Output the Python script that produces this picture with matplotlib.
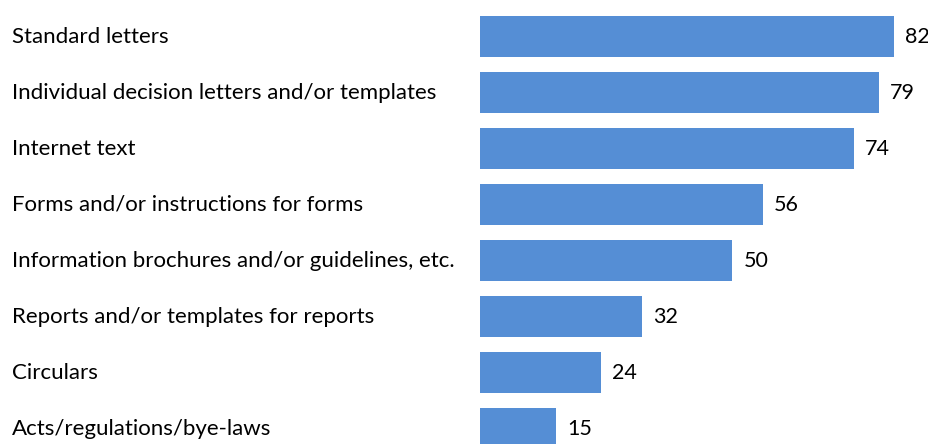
import matplotlib as mpl
mpl.use("Agg")
import matplotlib.pyplot as plt
from matplotlib.transforms import blended_transform_factory

plt.rcParams["font.family"] = ["Lato", "DejaVu Sans"]

categories = [
    "Standard letters",
    "Individual decision letters and/or templates",
    "Internet text",
    "Forms and/or instructions for forms",
    "Information brochures and/or guidelines, etc.",
    "Reports and/or templates for reports",
    "Circulars",
    "Acts/regulations/bye-laws",
]
values = [82, 79, 74, 56, 50, 32, 24, 15]

W, H = 929, 444
fig = plt.figure(figsize=(W / 100, H / 100), dpi=100)
# bar area starts at x=480px; the last row runs past the bottom edge
ax = fig.add_axes([480 / W, (H - 456.5) / H, (W - 480) / W, 448 / H])
ax.set_xlim(0, (W - 480) / 5.05)
ax.set_ylim(len(values) - 0.5, -0.5)
ax.axis("off")

pos = range(len(values))
ax.barh(pos, values, height=0.73, color="#558ED5")

for i, v in enumerate(values):
    ax.annotate(str(v), (v, i), xytext=(8, 0), textcoords="offset points",
                ha="left", va="center", fontsize=15.5, color="#000000")

trans = blended_transform_factory(fig.transFigure, ax.transData)
for i, c in enumerate(categories):
    ax.text(12 / W, i, c, transform=trans, ha="left", va="center",
            fontsize=16, color="#000000", clip_on=False)

fig.savefig("out.png", dpi=100)
